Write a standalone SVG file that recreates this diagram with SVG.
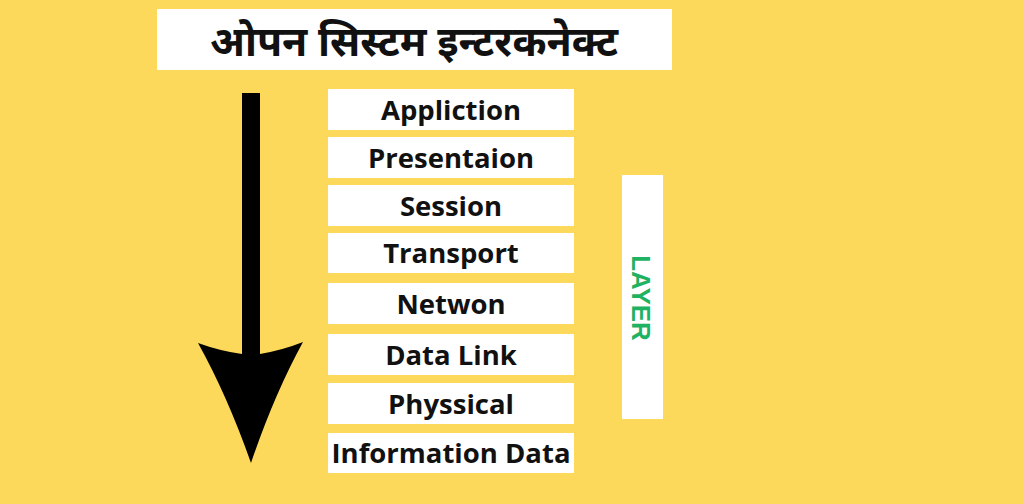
<svg xmlns="http://www.w3.org/2000/svg" width="1024" height="504" viewBox="0 0 1024 504">
<style>
.box{fill:#ffffff}
.lbl{font-family:"Open Sans","Liberation Sans",sans-serif;font-weight:700;font-size:27.5px;fill:#111111;text-anchor:middle}
.title{font-family:"Noto Sans Devanagari","Noto Sans","Liberation Sans",sans-serif;font-weight:700;font-size:41px;fill:#111111;text-anchor:middle}
.layer{font-family:"Liberation Sans","Open Sans",sans-serif;font-weight:700;font-size:26px;fill:#1fb262;text-anchor:middle}
</style>
<rect x="0" y="0" width="1024" height="504" fill="#fdd95b"/>
<g id="title">
<rect class="box" x="157" y="9" width="515" height="61"/>
<text class="title" x="414" y="56">ओपन सिस्टम इन्टरकनेक्ट</text>
</g>
<g id="connectors">
<path d="M242,93 H260 V354 Q283,350 303,342 Q274,395 251,463 Q227,395 198,343 Q220,351 242,354 Z" fill="#000000"/>
</g>
<g id="n1"><rect class="box" x="328" y="89" width="246" height="41"/><text class="lbl" x="451" y="120">Appliction</text></g>
<g id="n2"><rect class="box" x="328" y="137" width="246" height="41"/><text class="lbl" x="451" y="168">Presentaion</text></g>
<g id="n3"><rect class="box" x="328" y="185" width="246" height="41"/><text class="lbl" x="451" y="216">Session</text></g>
<g id="n4"><rect class="box" x="328" y="233" width="246" height="40"/><text class="lbl" x="451" y="263">Transport</text></g>
<g id="n5"><rect class="box" x="328" y="283" width="246" height="41"/><text class="lbl" x="451" y="314">Netwon</text></g>
<g id="n6"><rect class="box" x="328" y="334" width="246" height="41"/><text class="lbl" x="451" y="365">Data Link</text></g>
<g id="n7"><rect class="box" x="328" y="383" width="246" height="41"/><text class="lbl" x="451" y="414">Physsical</text></g>
<g id="n8"><rect class="box" x="328" y="433" width="246" height="40"/><text class="lbl" x="451" y="463">Information Data</text></g>
<g id="layer">
<rect class="box" x="622" y="175" width="41" height="244"/>
<text class="layer" transform="translate(632,298) rotate(90)" x="0" y="0">LAYER</text>
</g>
</svg>
